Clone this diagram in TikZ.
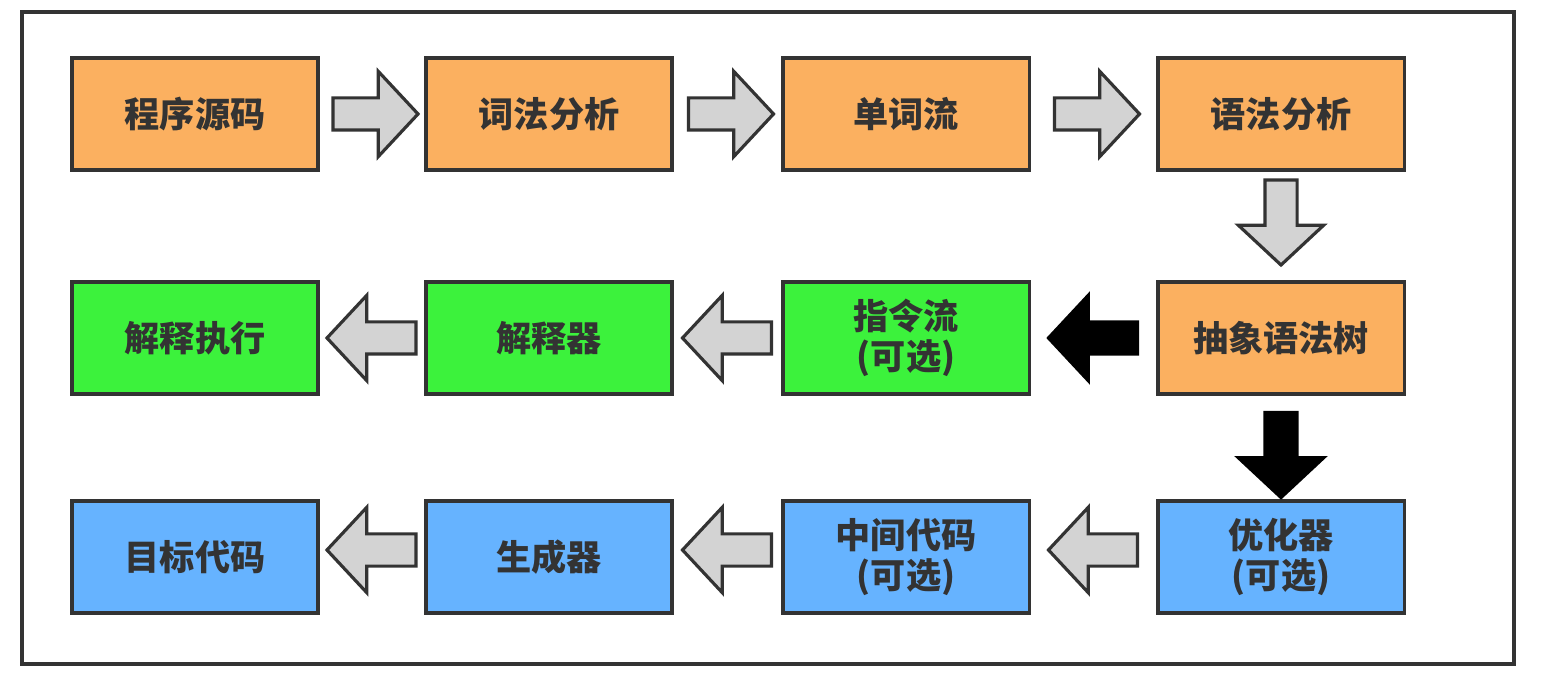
\documentclass[tikz,border=0pt]{standalone}
\usepackage{fontspec}
\newfontfamily\cjkfont{Noto Sans CJK SC}
\usepackage{tikz}
\usetikzlibrary{shapes.arrows, positioning, calc}
\definecolor{frontColor}{HTML}{FBB060}
\definecolor{interpColor}{HTML}{3CF23C}
\definecolor{compColor}{HTML}{66B3FF}
\definecolor{arrowGray}{HTML}{D3D3D3}
\definecolor{edgeColor}{HTML}{333333}

\begin{document}
\begin{tikzpicture}[x=0.01cm, y=-0.01cm,
        stage/.style={rectangle, draw=edgeColor, line width=0.9pt, minimum width=2.46cm, minimum height=1.12cm, inner sep=0pt, align=center, text=black!80, font=\cjkfont\bfseries\fontsize{10pt}{11.5pt}\selectfont},
        flow/.style={single arrow, draw=edgeColor, line width=0.9pt, fill=arrowGray, minimum height=0.85cm, single arrow head extend=0.265cm, single arrow tip angle=94, single arrow head indent=0pt, inner xsep=0pt, inner ysep=0.145cm},
        flowright/.style={flow, xshift=-0.04cm},
        flowleft/.style={flow, minimum height=0.89cm, shape border rotate=180, xshift=0.07cm},
        flowdown/.style={flow, shape border rotate=270, inner xsep=0.145cm, inner ysep=0pt, yshift=0.07cm},
        keyflow/.style={fill=black, draw=black}]
        \useasboundingbox[fill=white] (0,0) rectangle (1542,686);
        \draw[edgeColor, line width=0.9pt] (22,12) rectangle (1514,664);

        % Front end
        \node[stage, fill=frontColor] (src) at (195,114) {程序源码};
        \node[stage, fill=frontColor] (lex) at (549,114) {词法分析};
        \node[stage, fill=frontColor] (tokens) at (906,114) {单词流};
        \node[stage, fill=frontColor] (parse) at (1281,114) {语法分析};
        \node[stage, fill=frontColor] (ast) at (1281,338) {抽象语法树};

        % Interpreter path
        \node[stage, fill=interpColor] (instr) at (906,338) {指令流\\(可选)};
        \node[stage, fill=interpColor] (interp) at (549,338) {解释器};
        \node[stage, fill=interpColor] (exec) at (195,338) {解释执行};

        % Compiler path
        \node[stage, fill=compColor] (opt) at (1281,557) {优化器\\(可选)};
        \node[stage, fill=compColor] (ir) at (906,557) {中间代码\\(可选)};
        \node[stage, fill=compColor] (gen) at (549,557) {生成器};
        \node[stage, fill=compColor] (target) at (195,557) {目标代码};

        % Block arrows
        \node[flowright] (a1) at ($(src.east)!0.5!(lex.west)$) {};
        \node[flowright] (a2) at ($(lex.east)!0.5!(tokens.west)$) {};
        \node[flowright] (a3) at ($(tokens.east)!0.5!(parse.west)$) {};
        \node[flowdown] (a4) at ($(parse.south)!0.5!(ast.north)+(0,-4)$) {};
        \node[flowleft, keyflow] (a5) at ($(ast.west)!0.5!(instr.east)$) {};
        \node[flowleft] (a6) at ($(instr.west)!0.5!(interp.east)$) {};
        \node[flowleft] (a7) at ($(interp.west)!0.5!(exec.east)$) {};
        \node[flowdown, keyflow] (a8) at ($(ast.south)!0.5!(opt.north)+(0,7)$) {};
        \node[flowleft] (a9) at ($(opt.west)!0.5!(ir.east)+(0,-7)$) {};
        \node[flowleft] (a10) at ($(ir.west)!0.5!(gen.east)+(0,-7)$) {};
        \node[flowleft] (a11) at ($(gen.west)!0.5!(target.east)+(0,-7)$) {};
\end{tikzpicture}
\end{document}
